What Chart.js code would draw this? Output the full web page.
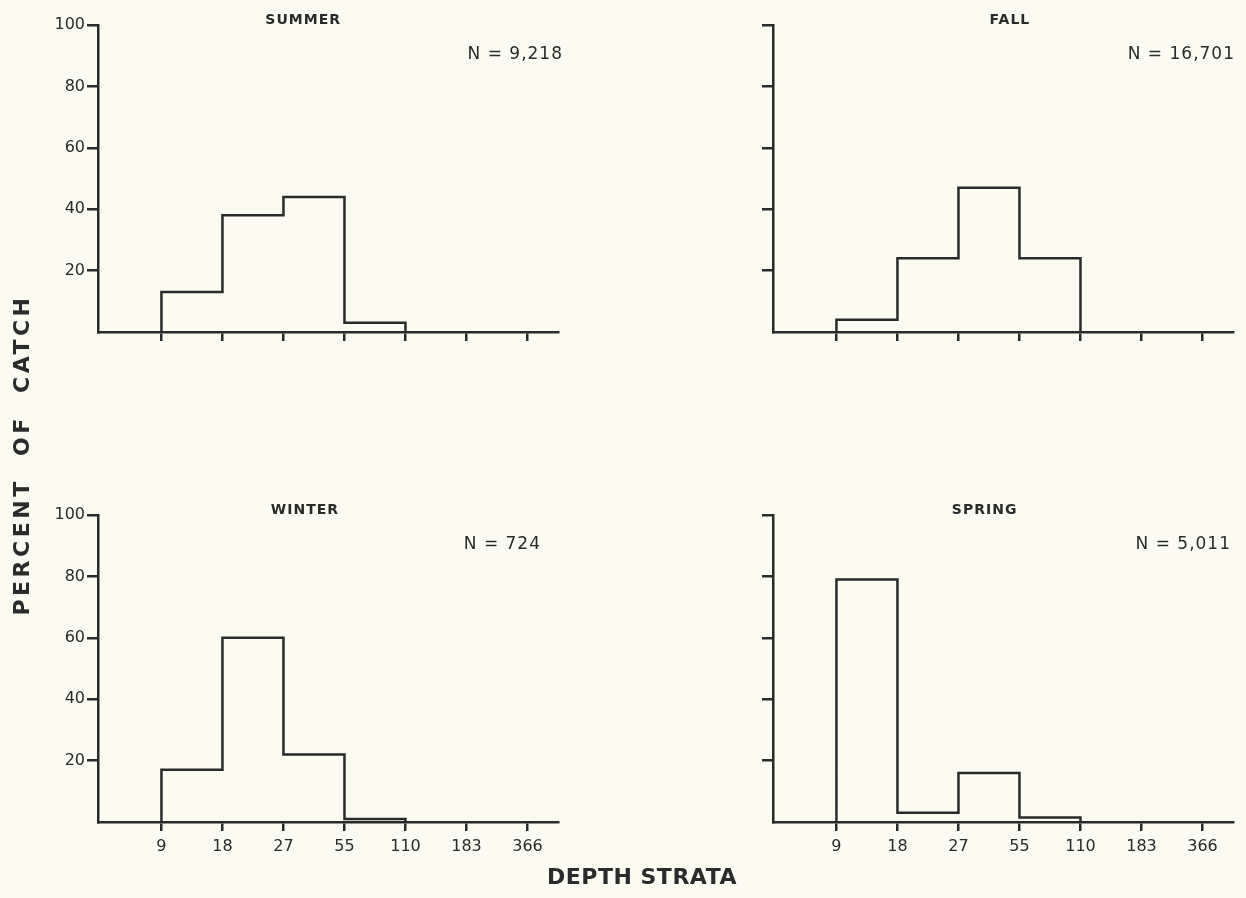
<!DOCTYPE html>
<html>
<head>
<meta charset="utf-8">
<script src="https://cdn.jsdelivr.net/npm/chart.js@4.4.1/dist/chart.umd.min.js"></script>
<style>
  html, body { margin: 0; padding: 0; background: #fcfbf1; }
  body { width: 1246px; height: 898px; position: relative; overflow: hidden;
         font-family: "DejaVu Sans", sans-serif; color: #2b2b2b; }
  canvas { position: absolute; }
  #summer { left: 30px; top: 0; }
  #fall { left: 705px; top: 0; }
  #winter { left: 30px; top: 490px; }
  #spring { left: 705px; top: 490px; }
  .axis-title { position: absolute; font-weight: bold; white-space: pre; text-align: center; }
  #x-title { left: 442px; width: 400px; top: 864px; font-size: 22px; line-height: 26px; letter-spacing: 0.5px; }
  #y-title { left: -178px; width: 400px; top: 442px; font-size: 22px; line-height: 26px; letter-spacing: 3.5px;
             transform: rotate(-90deg); transform-origin: 50% 50%; }
</style>
</head>
<body>
<canvas id="summer" width="580" height="380"></canvas>
<canvas id="fall" width="580" height="380"></canvas>
<canvas id="winter" width="580" height="380"></canvas>
<canvas id="spring" width="580" height="380"></canvas>
<div id="x-title" class="axis-title">DEPTH STRATA</div>
<div id="y-title" class="axis-title">PERCENT  OF  CATCH</div>
<script>
// depth strata (tick labels) and percent of catch per stratum, bins 9-18, 18-27, 27-55, 55-110, 110-183, 183-366
var STRATA = ['9', '18', '27', '55', '110', '183', '366'];
var Y_TICKS = [20, 40, 60, 80, 100];
var SUMMER = [13, 38, 44, 3, 0, 0];
var FALL = [4, 24, 47, 24, 0, 0];
var WINTER = [17, 60, 22, 1, 0, 0];
var SPRING = [79, 3, 16, 1.5, 0, 0];
var SEASONS = ['SUMMER', 'FALL', 'WINTER', 'SPRING'];
var COUNTS = ['9,218', '16,701', '724', '5,011'];

var INK = '#2a2a2a';

// outline of the histogram: start on the axis, one step per stratum,
// drop back to the axis after the last stratum with any catch
function stepPoints(values) {
  var last = values.length - 1;
  while (last > 0 && values[last] === 0) last--;
  var pts = [{ x: 1, y: 0 }];
  for (var i = 0; i <= last; i++) pts.push({ x: i + 1, y: values[i] });
  pts.push({ x: last + 2, y: 0 });
  return pts;
}

// season name above the plot, sample size in the upper right
var panelText = {
  id: 'panelText',
  afterDraw: function(chart, args, opts) {
    var a = chart.chartArea;
    var ctx = chart.ctx;
    ctx.save();
    ctx.fillStyle = INK;
    ctx.textBaseline = 'middle';
    ctx.letterSpacing = '1px';
    ctx.font = 'bold 14px "DejaVu Sans"';
    ctx.textAlign = 'center';
    ctx.fillText(opts.title, a.left + a.width * opts.titleAt, a.top - 5);
    ctx.font = '17px "DejaVu Sans"';
    ctx.textAlign = 'right';
    ctx.fillText('N = ' + opts.count, a.right + opts.countDx, a.top + 30);
    ctx.restore();
  }
};

function makePanel(id, values, idx, opt) {
  var el = document.getElementById(id);
  return new Chart(el, {
    type: 'line',
    data: {
      datasets: [{
        data: stepPoints(values),
        stepped: true,
        borderColor: INK,
        borderWidth: 2.5,
        pointRadius: 0,
        fill: false,
        clip: 4
      }]
    },
    options: {
      responsive: false,
      animation: false,
      events: [],
      layout: { padding: { top: 25, right: 52, left: 0, bottom: 0 } },
      plugins: {
        legend: { display: false },
        tooltip: { enabled: false },
        panelText: { title: SEASONS[idx], count: COUNTS[idx], titleAt: opt.titleAt, countDx: opt.countDx }
      },
      scales: {
        x: {
          type: 'linear',
          min: -0.04,
          max: 7.5,
          afterBuildTicks: function(scale) {
            scale.ticks = STRATA.map(function(s, i) { return { value: i + 1 }; });
          },
          afterFit: function(scale) { scale.height = 48; },
          grid: { drawOnChartArea: false, drawTicks: true, tickLength: 9, color: INK, lineWidth: 2.5 },
          border: { display: true, color: INK, width: 2.5 },
          ticks: {
            autoSkip: false,
            maxRotation: 0,
            padding: 6,
            color: INK,
            font: { family: 'DejaVu Sans', size: 16 },
            callback: function(v) { return opt.xLabels ? STRATA[Math.round(v) - 1] : ''; }
          }
        },
        y: {
          min: 0,
          max: 100,
          afterBuildTicks: function(scale) {
            scale.ticks = Y_TICKS.map(function(v) { return { value: v }; });
          },
          afterFit: function(scale) { scale.width = 68; },
          grid: { drawOnChartArea: false, drawTicks: true, tickLength: 11, color: INK, lineWidth: 2.5 },
          border: { display: true, color: INK, width: 2.5 },
          ticks: {
            padding: 2,
            color: INK,
            font: { family: 'DejaVu Sans', size: 16 },
            callback: function(v) { return opt.yLabels ? String(v) : ''; }
          }
        }
      }
    },
    plugins: [panelText]
  });
}

makePanel('summer', SUMMER, 0, { xLabels: false, yLabels: true, titleAt: 0.446, countDx: 5 });
makePanel('fall', FALL, 1, { xLabels: false, yLabels: false, titleAt: 0.515, countDx: 2 });
makePanel('winter', WINTER, 2, { xLabels: true, yLabels: true, titleAt: 0.45, countDx: -17 });
makePanel('spring', SPRING, 3, { xLabels: true, yLabels: false, titleAt: 0.46, countDx: -2 });
</script>
</body>
</html>
